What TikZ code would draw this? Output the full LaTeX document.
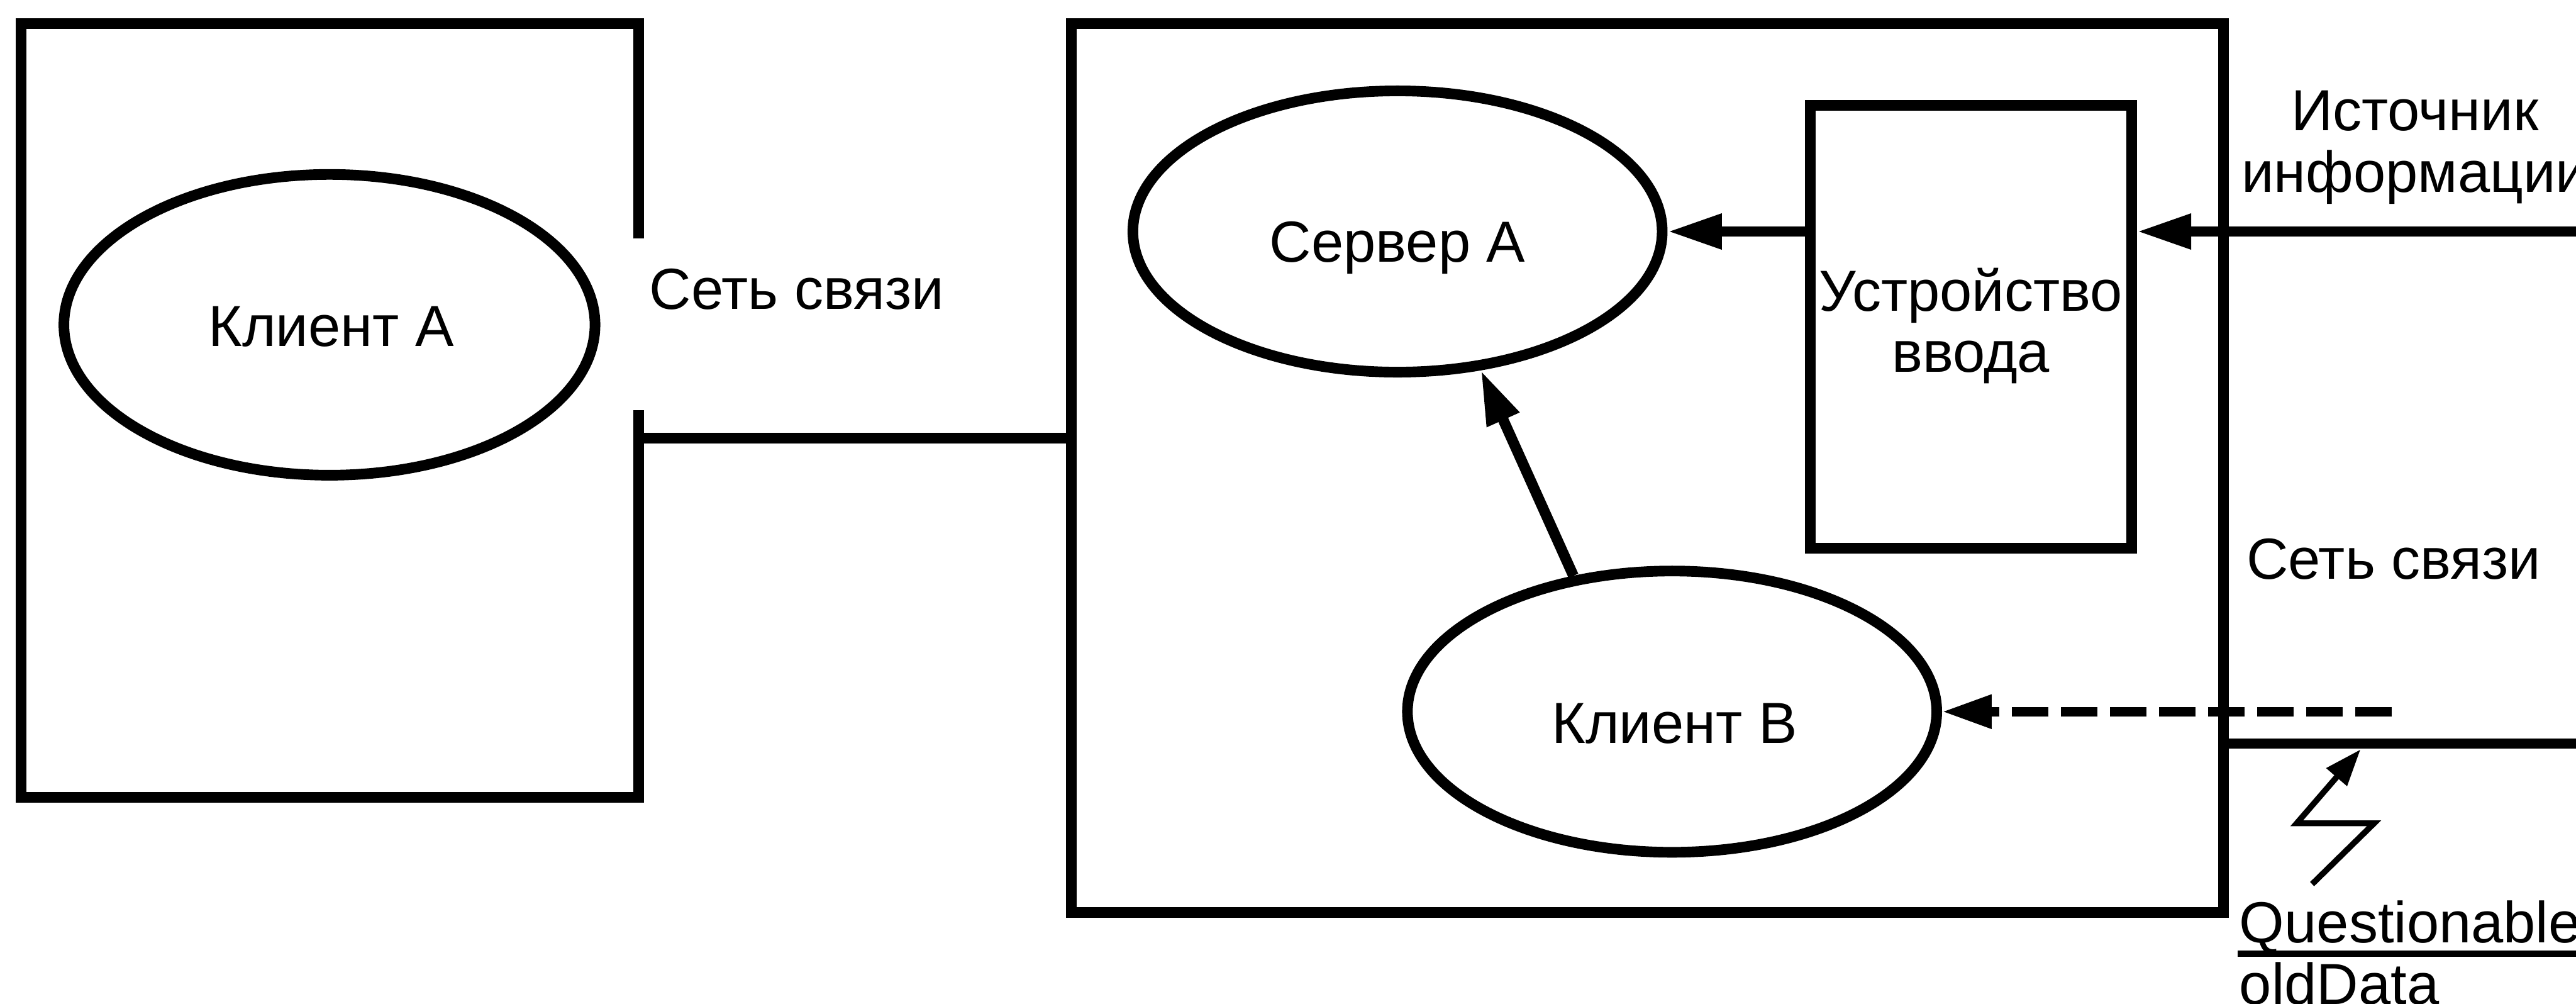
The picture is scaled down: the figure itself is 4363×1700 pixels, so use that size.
\documentclass[tikz,border=0pt]{standalone}
\usepackage{fontspec}
\setmainfont{Liberation Sans}
\usetikzlibrary{arrows.meta,shapes.geometric}
\begin{document}
\begin{tikzpicture}[x=0.01cm,y=-0.01cm,
  lw/.style={line width=0.18cm},
  boxnode/.style={draw, rectangle, line width=0.18cm, inner sep=0pt},
  ell/.style={draw, ellipse, line width=0.18cm, inner sep=0pt, minimum width=8.96cm, minimum height=4.76cm},
  lbl/.style={font=\fontsize{27.9pt}{29.4pt}\selectfont, inner sep=0pt, outer sep=0pt},
  arr/.style={line width=0.18cm, -{Triangle[length=0.92cm,width=0.56cm]}},
  darr/.style={line width=0.16cm, dash pattern=on 0.62cm off 0.21cm, -{Triangle[length=0.84cm,width=0.54cm]}},
  bolt/.style={line width=0.1cm, line join=miter, -{Triangle[length=0.62cm,width=0.44cm]}},
]
\fill[white] (0,0) rectangle (4363,1700);
\useasboundingbox (0,0) rectangle (4363,1700);

% left box (with a gap in its right side)
\coordinate (lbTop) at (1082,404);
\coordinate (lbBot) at (1082,695);
\draw[lw] (lbTop) -- (1082,40) -- (36,40) -- (36,1350) -- (1082,1350) -- (lbBot);
\coordinate (lbPort) at (1082,742);

% big box
\node[boxnode, minimum width=19.5cm, minimum height=15.05cm] (big) at (2790,792.5) {};

% input device
\node[boxnode, minimum width=5.44cm, minimum height=7.49cm] (dev) at (3338,553.5) {};
\node[lbl, anchor=base] (devT1) at (3338,527) {Устройство};
\node[lbl, anchor=base] (devT2) at (3338,630) {ввода};

% ellipses
\node[ell, minimum width=8.99cm, minimum height=5.09cm] (ca) at (558,550) {};
\node[lbl, anchor=base] (caT) at (561,586) {Клиент A};
\node[ell] (sa) at (2367,392) {};
\node[lbl, anchor=base] (saT) at (2367,444) {Сервер A};
\node[ell] (cb) at (2832,1205) {};
\node[lbl, anchor=base] (cbT) at (2836,1258) {Клиент B};

% labels
\node[lbl, anchor=base west] (net1) at (1100,524) {Сеть связи};
\node[lbl, anchor=base west] (net2) at (3805,980) {Сеть связи};
\node[lbl, anchor=base] (src1) at (4090,221) {Источник};
\node[lbl, anchor=base] (src2) at (4090,325) {информации};
\node[lbl, anchor=base west] (q1) at (3793,1596) {Questionable};
\node[lbl, anchor=base west] (q2) at (3793,1701) {oldData};
\coordinate (barL) at (3790,1615);
\coordinate (barR) at (4400,1615);
\draw[line width=0.11cm] (barL) -- (barR);

% connectors
\draw[lw] (lbPort) -- (big.west |- lbPort);
\draw[arr] (dev.west |- sa.east) -- (sa.east);
\coordinate (srcR) at (4400,392);
\draw[arr] (srcR) -- (dev.east |- srcR);
\draw[arr] (cb.126.7) -- (sa.301.6);
\coordinate (dStart) at (4051,1205);
\draw[darr] (dStart) -- (cb.east);
\coordinate (netR) at (4400,1259);
\draw[lw] (big.east |- netR) -- (netR);

% lightning
\coordinate (b1) at (3916,1497);
\coordinate (b2) at (4021,1394);
\coordinate (b3) at (3890,1394);
\coordinate (b4) at (3998,1269);
\draw[bolt] (b1) -- (b2) -- (b3) -- (b4);
\end{tikzpicture}
\end{document}
